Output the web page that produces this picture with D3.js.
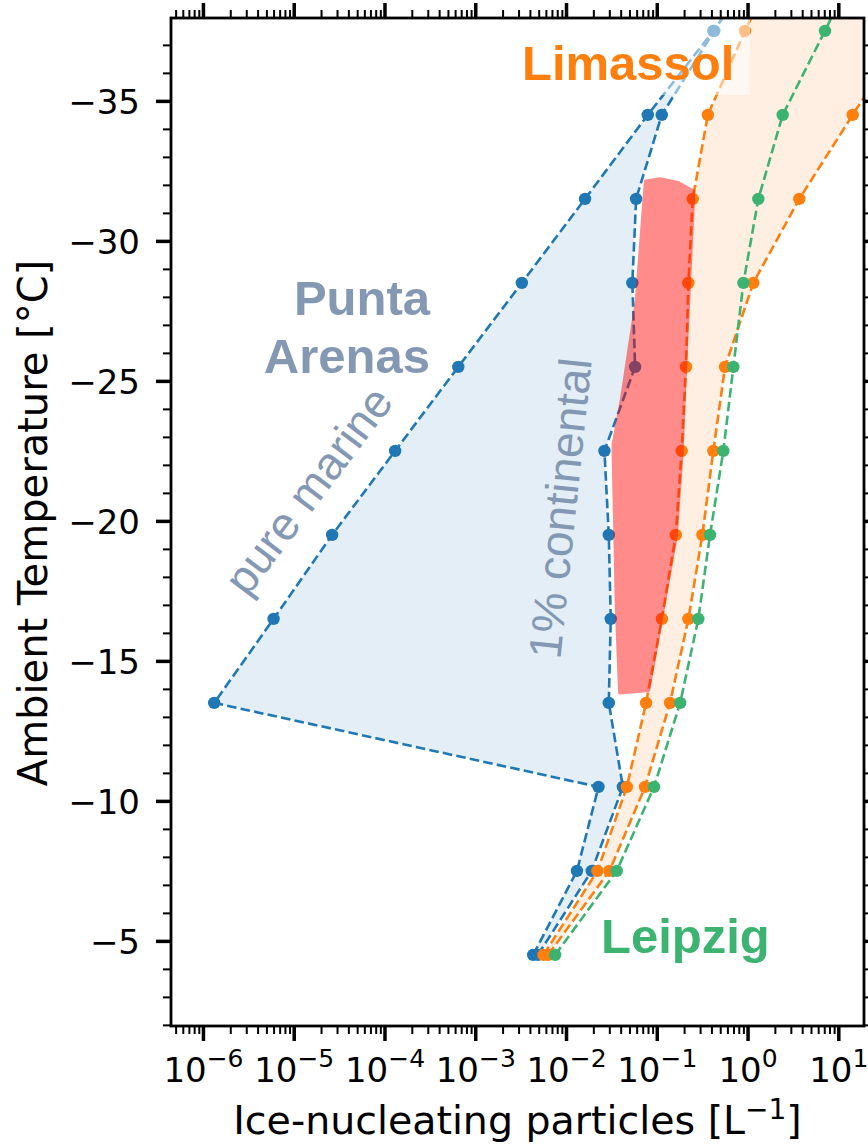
<!DOCTYPE html>
<html>
<head>
<meta charset="utf-8">
<script src="https://cdn.jsdelivr.net/npm/d3@7"></script>
<style>
  body { margin: 0; background: #fff; }
  svg { display: block; }
</style>
</head>
<body>
<script>
'use strict';

// temperature levels [°C]
const temps = [-4.5, -7.5, -10.5, -13.5, -16.5, -19.5, -22.5, -25.5, -28.5, -31.5, -34.5, -37.5, -40.5];

// INP concentrations [L^-1] at each level
const puntaMarine      = [0.00435, 0.0132, 0.0228, 1.33e-6, 6.0e-6, 2.65e-5, 1.31e-4, 6.5e-4, 0.00326, 0.0162, 0.0796, 0.42, 1.9];
const puntaContinental = [0.0049, 0.0192, 0.0423, 0.0296, 0.0311, 0.0296, 0.0265, 0.0577, 0.0538, 0.0592, 0.1135, 0.43, 1.6];
const limassolLow      = [0.00564, 0.0222, 0.0468, 0.0762, 0.114, 0.162, 0.188, 0.210, 0.223, 0.249, 0.365, 0.937, 2.6];
const limassolHigh     = [0.00635, 0.0301, 0.0743, 0.140, 0.223, 0.318, 0.420, 0.565, 1.158, 3.72, 14.4, 57, 230];
const leipzig          = [0.00759, 0.0362, 0.0933, 0.181, 0.287, 0.386, 0.541, 0.698, 0.90, 1.315, 2.44, 7.13, 20];

// red shaded area (outline)
const redInp = [0.0757, 0.1087, 0.172, 0.253, 0.205, 0.188, 0.162, 0.0807, 0.0394, 0.0362, 0.0333, 0.0412, 0.0603];
const redT   = [-32.12, -32.2, -32.07, -31.76, -25.48, -22.46, -19.46, -13.96, -13.87, -16.94, -22.71, -24.32, -27.89];

// axis ticks
const xMajor = [1e-6, 1e-5, 1e-4, 1e-3, 1e-2, 1e-1, 1e0, 1e1];
const yMajor = [-35, -30, -25, -20, -15, -10, -5];

const W = 868, H = 1146;
const pLeft = 171, pRight = 864, pTop = 18, pBottom = 1026;

const blue = '#1f77b4', orange = '#ff7f0e', green = '#3cb371', slate = '#8498b3';

const svg = d3.select('body').append('svg')
  .attr('width', W)
  .attr('height', H);

svg.append('rect').attr('width', W).attr('height', H).attr('fill', '#fff');

const x = d3.scaleLog()
  .domain([Math.pow(10, -6.352), Math.pow(10, 1.283)])
  .range([pLeft, pRight]);

const y = d3.scaleLinear()
  .domain([-1.96, -37.96])
  .range([pBottom, pTop]);

svg.append('clipPath').attr('id', 'plotclip')
  .append('rect')
  .attr('x', pLeft).attr('y', pTop)
  .attr('width', pRight - pLeft).attr('height', pBottom - pTop);

const plot = svg.append('g').attr('clip-path', 'url(#plotclip)');

// fill between two series along temperature
function band(a, b) {
  const pts = temps.map((t, i) => [a[i], t])
    .concat(temps.map((t, i) => [b[i], t]).reverse());
  return d3.line().x(d => x(d[0])).y(d => y(d[1]))(pts) + 'Z';
}

plot.append('path')
  .attr('d', band(puntaMarine, puntaContinental))
  .attr('fill', blue)
  .attr('fill-opacity', 0.12);

plot.append('path')
  .attr('d', band(limassolLow, limassolHigh))
  .attr('fill', orange)
  .attr('fill-opacity', 0.12);

function drawSeries(vals, color) {
  const pts = temps.map((t, i) => [vals[i], t]);
  plot.append('path')
    .datum(pts)
    .attr('fill', 'none')
    .attr('stroke', color)
    .attr('stroke-width', 2.6)
    .attr('stroke-dasharray', '9.6,4.2')
    .attr('d', d3.line().x(d => x(d[0])).y(d => y(d[1])));
  plot.selectAll(null)
    .data(pts)
    .enter()
    .append('circle')
      .attr('cx', d => x(d[0]))
      .attr('cy', d => y(d[1]))
      .attr('r', 6.2)
      .attr('fill', color);
}

drawSeries(puntaMarine, blue);
drawSeries(puntaContinental, blue);
drawSeries(limassolLow, orange);
drawSeries(limassolHigh, orange);
drawSeries(leipzig, green);

// red patch
const redPts = redInp.map((v, i) => [v, redT[i]]);
plot.append('path')
  .attr('d', d3.line().x(d => x(d[0])).y(d => y(d[1]))(redPts) + 'Z')
  .attr('fill', 'red')
  .attr('stroke', 'red')
  .attr('stroke-width', 4)
  .attr('stroke-linejoin', 'round')
  .attr('opacity', 0.45);

// labels in the plot
svg.append('rect')
  .attr('x', 509).attr('y', pTop)
  .attr('width', 241).attr('height', 95 - pTop)
  .attr('fill', '#fff')
  .attr('fill-opacity', 0.5);

const bold = { 'font-family': '"Liberation Sans", Arial, sans-serif', 'font-weight': 'bold', 'font-size': '49px' };
function label(txt, xx, yy, color, anchor) {
  const t = svg.append('text').attr('x', xx).attr('y', yy)
    .attr('fill', color).attr('text-anchor', anchor || 'start').text(txt);
  Object.entries(bold).forEach(([k, v]) => t.attr(k, v));
  return t;
}
label('Limassol', 522, 80, orange);
label('Leipzig', 601, 953, green);
label('Punta', 430, 315, slate, 'end');
label('Arenas', 430, 373, slate, 'end');

svg.append('text')
  .attr('transform', 'translate(321,500) rotate(-53)')
  .attr('text-anchor', 'middle')
  .attr('font-family', '"Liberation Sans", Arial, sans-serif')
  .attr('font-size', '46px')
  .attr('fill', slate)
  .text('pure marine');

svg.append('text')
  .attr('transform', 'translate(576,510) rotate(-84)')
  .attr('text-anchor', 'middle')
  .attr('font-family', '"Liberation Sans", Arial, sans-serif')
  .attr('font-size', '46px')
  .attr('fill', slate)
  .text('1% continental');

// axes
const xMinor = [];
for (let e = -7; e <= 1; e++) {
  for (let m = 2; m <= 9; m++) {
    const v = m * Math.pow(10, e);
    if (v > x.domain()[0] && v < x.domain()[1]) xMinor.push(v);
  }
}
const yMinor = d3.range(-37, -1).filter(v => v % 5 !== 0);

function styleAxis(g, w) {
  g.select('.domain').remove();
  g.selectAll('line').attr('stroke', '#000').attr('stroke-width', w);
}

// bottom
const xAxisMinor = svg.append('g').attr('transform', `translate(0,${pBottom})`)
  .call(d3.axisBottom(x).tickValues(xMinor).tickSize(8).tickFormat(''));
styleAxis(xAxisMinor, 2);
const xAxis = svg.append('g').attr('transform', `translate(0,${pBottom})`)
  .call(d3.axisBottom(x).tickValues(xMajor).tickSize(15));
styleAxis(xAxis, 3.5);
xAxis.selectAll('.tick text')
  .text(null)
  .attr('y', 56)
  .attr('dy', 0)
  .attr('fill', '#000')
  .attr('font-family', '"DejaVu Sans", sans-serif')
  .attr('font-size', '34px')
  .each(function(d) {
    const t = d3.select(this);
    const ex = Math.round(Math.log10(d));
    t.append('tspan').text('10');
    t.append('tspan')
      .attr('dy', -15)
      .attr('font-size', '25px')
      .text(ex < 0 ? '\u2212' + Math.abs(ex) : String(ex));
  });

// top
const xTopMinor = svg.append('g').attr('transform', `translate(0,${pTop})`)
  .call(d3.axisTop(x).tickValues(xMinor).tickSize(8).tickFormat(''));
styleAxis(xTopMinor, 2);
const xTop = svg.append('g').attr('transform', `translate(0,${pTop})`)
  .call(d3.axisTop(x).tickValues(xMajor).tickSize(15).tickFormat(''));
styleAxis(xTop, 3.5);

// left
const yAxisMinor = svg.append('g').attr('transform', `translate(${pLeft},0)`)
  .call(d3.axisLeft(y).tickValues(yMinor).tickSize(8).tickFormat(''));
styleAxis(yAxisMinor, 2);
const yAxis = svg.append('g').attr('transform', `translate(${pLeft},0)`)
  .call(d3.axisLeft(y).tickValues(yMajor).tickSize(15)
    .tickFormat(d => '\u2212' + Math.abs(d)));
styleAxis(yAxis, 3.5);
yAxis.selectAll('.tick text')
  .attr('x', -31)
  .attr('dy', '0.36em')
  .attr('fill', '#000')
  .attr('font-family', '"DejaVu Sans", sans-serif')
  .attr('font-size', '34px');

// right
const yRightMinor = svg.append('g').attr('transform', `translate(${pRight},0)`)
  .call(d3.axisRight(y).tickValues(yMinor).tickSize(8).tickFormat(''));
styleAxis(yRightMinor, 2);
const yRight = svg.append('g').attr('transform', `translate(${pRight},0)`)
  .call(d3.axisRight(y).tickValues(yMajor).tickSize(15).tickFormat(''));
styleAxis(yRight, 3.5);

// frame
svg.append('rect')
  .attr('x', pLeft).attr('y', pTop)
  .attr('width', pRight - pLeft).attr('height', pBottom - pTop)
  .attr('fill', 'none')
  .attr('stroke', '#000')
  .attr('stroke-width', 2.8);

// axis titles
const xTitle = svg.append('text')
  .attr('x', (pLeft + pRight) / 2)
  .attr('y', 1134)
  .attr('text-anchor', 'middle')
  .attr('font-family', '"DejaVu Sans", sans-serif')
  .attr('font-size', '39.5px')
  .text('Ice-nucleating particles [L');
xTitle.append('tspan').attr('dy', -15).attr('font-size', '28px').text('\u22121');
xTitle.append('tspan').attr('dy', 15).text(']');

svg.append('text')
  .attr('transform', `translate(47,${(pTop + pBottom) / 2 + 1}) rotate(-90)`)
  .attr('text-anchor', 'middle')
  .attr('font-family', '"DejaVu Sans", sans-serif')
  .attr('font-size', '40px')
  .text('Ambient Temperature [°C]');
</script>
</body>
</html>
